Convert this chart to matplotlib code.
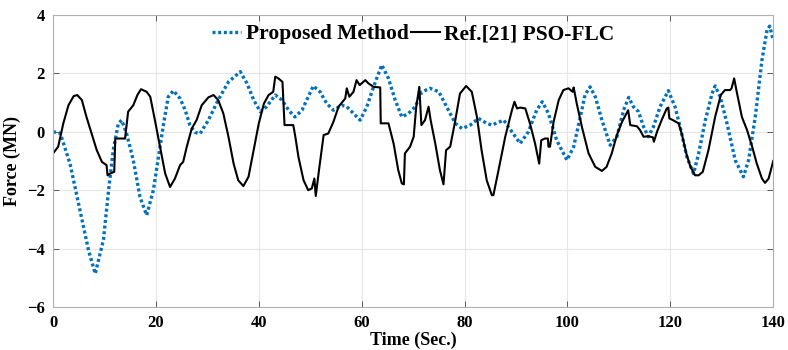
import matplotlib.pyplot as plt
import numpy as np

# proposed controller force (MN) vs time (s)
t_prop = [0, 1.4, 3.3, 5.25, 6.9, 8.2, 9.8, 10.8, 11.7, 12.7, 13.35, 14.3, 15.6, 16.9, 18.2,
          19.5, 20.5, 21.5, 22.4, 23.4, 24.7, 25.7, 26.6, 27.6, 28.6, 30.2, 32.1, 34.1, 36.4,
          37.7, 39.0, 40.3, 41.5, 43.2, 44.5, 45.8, 47.0, 48.4, 49.6, 50.6, 51.9, 53.2, 54.5,
          56.1, 57.1, 58.4, 59.7, 61.0, 62.3, 63.9, 65.2, 66.5, 67.8, 69.1, 70.4, 71.7, 73.3,
          75.0, 76.5, 78.2, 79.5, 81.1, 82.7, 84.3, 85.3, 87.6, 89.2, 90.8, 92.4, 94.0, 95.1,
          96.3, 97.9, 99.9, 101.2, 102.5, 103.4, 104.4, 105.4, 106.7, 108.3, 109.6, 110.9,
          111.9, 112.8, 113.8, 114.8, 115.7, 116.7, 118.0, 119.6, 120.9, 121.9, 123.2, 124.5,
          125.5, 126.8, 128.1, 128.7, 129.7, 131.0, 132.6, 134.2, 135.2, 136.5, 137.8, 138.8,
          139.3, 140.0]
f_prop = [0, -0.05, -1.09, -2.7, -4.06, -4.86, -3.7, -2.0, -0.63, 0.29, 0.4, -0.06, -0.97,
          -2.23, -2.86, -2.0, -0.86, 0.29, 1.2, 1.41, 1.14, 0.74, 0.23, -0.02, -0.06, 0.4,
          1.09, 1.71, 2.06, 1.66, 1.09, 0.69, 0.86, 1.26, 1.09, 0.74, 0.51, 0.74, 1.2, 1.57,
          1.37, 0.97, 0.74, 0.91, 0.86, 0.63, 0.4, 0.86, 1.54, 2.29, 1.83, 1.09, 0.51, 0.63,
          0.86, 1.37, 1.49, 1.37, 0.86, 0.29, 0.11, 0.23, 0.46, 0.29, 0.23, 0.4, 0.0, -0.4,
          0.0, 0.74, 1.03, 0.63, -0.29, -0.97, -0.51, 0.51, 1.26, 1.54, 1.2, 0.4, -0.46,
          -0.17, 0.74, 1.18, 0.86, 0.69, 0.17, -0.17, 0.17, 0.86, 1.41, 0.86, 0.17, -0.86,
          -1.43, -0.74, 0.4, 1.31, 1.57, 1.2, 0.29, -0.97, -1.54, -0.97, 0.51, 2.46, 3.49,
          3.62, 3.15]

# Ref.[21] PSO-FLC force (MN) vs time (s)
t_ref = [0, 1.0, 2.0, 3.0, 4.0, 4.7, 5.6, 6.5, 7.5, 8.5, 9.5, 10.4, 10.6, 11.1, 11.9, 12.1,
         13.4, 14.0, 14.6, 15.6, 16.4, 17.1, 18.2, 18.9, 19.8, 20.8, 21.8, 22.75, 23.7, 24.7,
         25.3, 26.0, 26.96, 27.9, 28.9, 30.2, 31.2, 32.1, 33.1, 34.1, 35.1, 36.0, 37.0, 38.0,
         39.0, 40.0, 41.0, 41.9, 42.8, 43.2, 43.8, 44.6, 45.0, 45.8, 46.7, 47.1, 47.7, 48.7,
         49.6, 50.3, 50.8, 51.07, 51.7, 52.6, 53.5, 54.5, 55.5, 56.8, 57.1, 57.6, 58.4, 59.0,
         59.6, 60.7, 61.3, 62.3, 63.6, 63.7, 65.2, 66.2, 67.1, 67.8, 68.2, 68.4, 69.4, 70.1,
         70.6, 71.2, 71.6, 72.3, 73.0, 73.4, 74.3, 75.2, 75.9, 76.4, 77.2, 78.2, 79.1, 80.3,
         81.4, 82.4, 83.3, 84.3, 85.3, 85.6, 86.6, 87.9, 89.2, 89.7, 90.2, 90.8, 91.8, 92.7,
         93.7, 94.5, 94.9, 95.6, 96.2, 96.3, 96.6, 97.3, 98.3, 99.2, 100.2, 101.0, 101.2,
         101.8, 102.8, 104.1, 105.4, 106.7, 107.6, 108.6, 109.6, 110.6, 111.8, 112.2, 113.5,
         114.1, 114.8, 115.7, 116.6, 116.8, 117.4, 118.3, 119.3, 119.6, 119.8, 120.5, 121.6,
         122.2, 123.1, 123.9, 124.8, 125.5, 126.3, 127.4, 128.7, 129.8, 130.6, 131.6, 131.9,
         132.4, 132.9, 133.9, 134.9, 135.9, 136.8, 137.8, 138.4, 139.1, 140.0]
f_ref = [-0.74, -0.51, 0.29, 0.91, 1.22, 1.26, 1.09, 0.51, -0.06, -0.63, -1.03, -1.14, -1.49,
         -1.43, -1.37, -0.23, -0.23, -0.23, 0.69, 0.91, 1.26, 1.46, 1.37, 1.2, 0.4, -0.51,
         -1.43, -1.89, -1.6, -1.14, -1.03, -0.51, 0.11, 0.4, 0.91, 1.18, 1.26, 1.09, 0.63,
         -0.17, -1.09, -1.66, -1.86, -1.54, -0.63, 0.29, 0.97, 1.26, 1.37, 1.89, 1.83, 1.71,
         0.23, 0.23, 0.23, -0.17, -0.86, -1.66, -2.0, -1.94, -1.6, -2.2, -1.31, -0.11, -0.06,
         0.34, 0.86, 1.14, 1.49, 1.2, 1.37, 1.77, 1.6, 1.77, 1.66, 1.54, 1.52, 0.29, 0.29,
         -0.4, -1.31, -1.77, -1.8, -0.74, -0.51, -0.17, 0.86, 1.54, 0.23, 0.4, 0.86, 0.4,
         -0.4, -1.31, -1.8, -0.63, -0.51, 0.4, 1.31, 1.57, 1.37, 0.51, -0.63, -1.66, -2.17,
         -2.17, -1.31, -0.17, 0.74, 1.03, 0.8, 0.83, 0.8, 0.29, -0.4, -1.09, -0.29, -0.23,
         -0.23, -0.51, -0.51, 0.34, 1.09, 1.43, 1.49, 1.37, 1.52, 0.97, 0.17, -0.74, -1.2,
         -1.34, -1.2, -0.74, -0.11, 0.34, 0.74, 0.23, 0.19, 0.06, -0.17, -0.15, -0.19, -0.34,
         0.0, 0.4, 0.8, 0.83, 0.46, 0.4, 0.29, -0.06, -0.74, -1.2, -1.49, -1.49, -1.37, -0.63,
         0.51, 1.26, 1.43, 1.43, 1.49, 1.83, 1.37, 0.51, 0.06, -0.51, -1.09, -1.6, -1.75,
         -1.6, -1.0]

x_ticks = np.arange(0, 141, 20)
y_ticks = np.arange(-6, 5, 2)

plt.rcParams["font.family"] = ["Liberation Serif", "DejaVu Serif"]
plt.rcParams["font.weight"] = "bold"

fig = plt.figure(figsize=(7.88, 3.5), dpi=100)
ax = fig.add_axes([0.0673, 0.123, 0.914, 0.834])

ax.plot(t_prop, f_prop, color="#0072BD", linestyle=(0, (0.9, 0.8)), linewidth=2.4,
        label="Proposed Method")
ax.plot(t_ref, f_ref, color="black", linewidth=1.5, label="Ref.[21] PSO-FLC")

ax.set_xlim(0, 140)
ax.set_ylim(-6, 4)
ax.set_xticks(x_ticks)
ax.set_yticks(y_ticks)
ax.grid(True, color="#e6e6e6", linewidth=0.8)
ax.set_axisbelow(True)
ax.tick_params(direction="in", top=True, right=True, length=4, width=0.6,
               color="#444444", labelsize=12, pad=6)
for spine in ax.spines.values():
    spine.set_color("#b0b0b0")
    spine.set_linewidth(0.8)

ax.set_xlabel("Time (Sec.)", fontsize=13, fontweight="bold", labelpad=0)
ax.set_ylabel("Force (MN)", fontsize=13, fontweight="bold", labelpad=4)

ax.legend(loc="upper center", bbox_to_anchor=(0.5, 1.035), ncol=2, frameon=False,
          handlelength=1.35, handletextpad=0.2, columnspacing=0.1,
          prop={"weight": "bold", "size": 15.5})

fig.savefig("out.png", dpi=100)
